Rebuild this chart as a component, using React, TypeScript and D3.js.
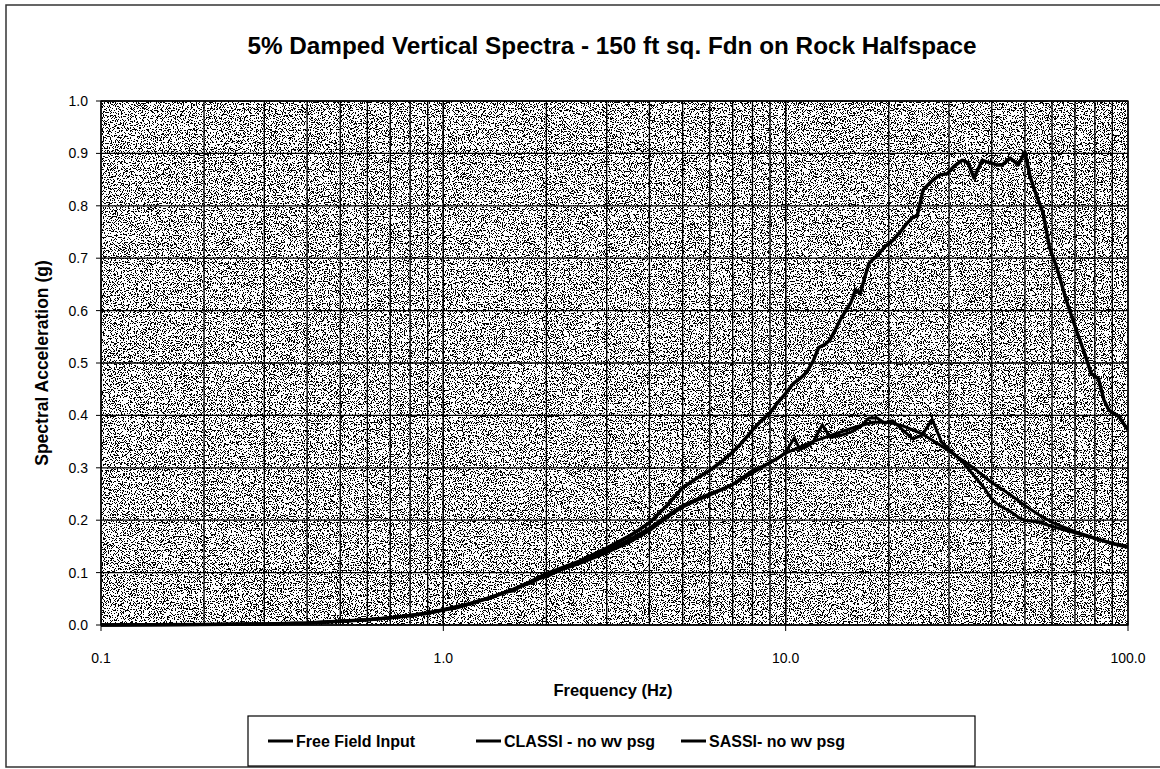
import React from "react";
import * as d3 from "d3";

const W = 1160;
const H = 769;

const titleText = "5% Damped Vertical Spectra - 150 ft sq. Fdn on Rock Halfspace";
const xTitle = "Frequency (Hz)";
const yTitle = "Spectral Acceleration (g)";
const xTickValues = [0.1, 1, 10, 100];
const xTickLabels = ["0.1", "1.0", "10.0", "100.0"];
const yTickValues = [0, 0.1, 0.2, 0.3, 0.4, 0.5, 0.6, 0.7, 0.8, 0.9, 1.0];
const seriesNames = ["Free Field Input", "CLASSI - no wv psg", "SASSI- no wv psg"];

const ffFreq = [0.1, 0.2, 0.3, 0.4, 0.5, 0.6, 0.7, 0.8, 0.9, 1.0, 1.2, 1.4, 1.6, 1.8, 2.0, 2.5, 3.0, 3.5, 4.0, 4.5, 5.0, 5.5, 6.0, 7.0, 8.0, 9.0, 10, 12, 14, 16, 18, 20, 22, 25, 28, 30, 35, 40, 45, 50, 55, 60, 70, 80, 90, 100];
const ffAcc = [0.0, 0.001, 0.002, 0.004, 0.007, 0.010, 0.014, 0.018, 0.023, 0.029, 0.040, 0.055, 0.068, 0.082, 0.097, 0.120, 0.143, 0.163, 0.185, 0.208, 0.228, 0.240, 0.250, 0.268, 0.290, 0.310, 0.328, 0.350, 0.365, 0.378, 0.387, 0.387, 0.380, 0.365, 0.345, 0.332, 0.302, 0.272, 0.250, 0.228, 0.210, 0.196, 0.178, 0.166, 0.156, 0.150];

const classiFreq = [0.1, 0.2, 0.3, 0.4, 0.5, 0.6, 0.7, 0.8, 0.9, 1.0, 1.1, 1.2, 1.3, 1.4, 1.5, 1.6, 1.7, 1.8, 1.9, 2.0, 2.2, 2.5, 2.8, 3.0, 3.5, 4.0, 4.5, 5.0, 5.5, 6.0, 6.5, 7.0, 7.5, 8.0, 8.5, 9.0, 9.5, 10.0, 10.6, 11.0, 11.5, 12.0, 12.8, 13.5, 14.5, 15.5, 16.5, 17.5, 18.5, 19.5, 20.5, 22, 23.5, 25, 26.8, 28.5, 30, 33, 36, 38, 40, 42, 45, 48, 50, 55, 60, 70, 80, 90, 100];
const classiAcc = [0.0, 0.001, 0.002, 0.004, 0.007, 0.010, 0.014, 0.018, 0.022, 0.028, 0.033, 0.041, 0.048, 0.053, 0.062, 0.065, 0.075, 0.080, 0.088, 0.092, 0.105, 0.117, 0.130, 0.138, 0.158, 0.180, 0.205, 0.225, 0.238, 0.248, 0.258, 0.268, 0.282, 0.295, 0.302, 0.310, 0.318, 0.330, 0.357, 0.335, 0.340, 0.348, 0.382, 0.358, 0.362, 0.368, 0.378, 0.395, 0.395, 0.385, 0.390, 0.372, 0.355, 0.362, 0.392, 0.350, 0.335, 0.310, 0.280, 0.262, 0.240, 0.228, 0.218, 0.205, 0.200, 0.196, 0.188, 0.176, 0.165, 0.155, 0.148];

const sassiFreq = [0.1, 0.2, 0.3, 0.4, 0.5, 0.6, 0.7, 0.8, 0.9, 1.0, 1.2, 1.4, 1.6, 1.8, 2.0, 2.5, 3.0, 3.5, 4.0, 4.5, 5.0, 5.5, 6.0, 6.5, 7.0, 7.5, 8.0, 8.5, 9.0, 9.5, 10.0, 10.5, 11.0, 11.5, 12.0, 12.5, 13.0, 13.5, 14.0, 14.5, 15.0, 15.5, 16.0, 16.5, 17.0, 17.5, 18.5, 19.5, 20.5, 21.6, 22.5, 23.6, 24.2, 25.2, 26.5, 28.2, 29.6, 31, 32.8, 34.1, 35.5, 37.5, 39, 41.5, 42.9, 45.3, 47.8, 50, 51.8, 54.2, 56.5, 59, 62.1, 66, 70, 75, 78, 82, 85, 88, 94, 100];
const sassiAcc = [0.0, 0.001, 0.002, 0.004, 0.007, 0.010, 0.014, 0.018, 0.023, 0.029, 0.041, 0.054, 0.068, 0.083, 0.098, 0.122, 0.147, 0.170, 0.195, 0.228, 0.262, 0.280, 0.295, 0.312, 0.330, 0.350, 0.372, 0.390, 0.405, 0.425, 0.442, 0.460, 0.470, 0.482, 0.502, 0.530, 0.535, 0.545, 0.565, 0.585, 0.600, 0.615, 0.640, 0.632, 0.662, 0.690, 0.705, 0.722, 0.733, 0.750, 0.765, 0.779, 0.780, 0.830, 0.845, 0.859, 0.861, 0.875, 0.887, 0.882, 0.853, 0.887, 0.883, 0.878, 0.878, 0.891, 0.878, 0.903, 0.855, 0.817, 0.786, 0.720, 0.680, 0.620, 0.570, 0.515, 0.480, 0.470, 0.430, 0.410, 0.398, 0.372];

const M = { left: 101, right: 1128, top: 101, bottom: 625 };

export default function App() {
  const x = d3.scaleLog().domain([0.1, 100]).range([M.left, M.right]);
  const y = d3.scaleLinear().domain([0, 1]).range([M.bottom, M.top]);

  const minorX: number[] = [];
  [0.1, 1, 10].forEach((d) => {
    for (let k = 1; k <= 10; k++) minorX.push(d * k);
  });

  const line = d3
    .line<[number, number]>()
    .x((d) => x(d[0]))
    .y((d) => y(d[1]));

  const series = [
    ffFreq.map((f, i) => [f, ffAcc[i]] as [number, number]),
    classiFreq.map((f, i) => [f, classiAcc[i]] as [number, number]),
    sassiFreq.map((f, i) => [f, sassiAcc[i]] as [number, number]),
  ];

  const font = "'Liberation Sans', Arial, sans-serif";
  const legendX = [268, 476, 681];
  const table = Array.from({ length: 32 }, (_, k) => (k >= 18 ? 1 : 0)).join(" ");

  return (
    <svg
      width={W}
      height={H}
      style={{ position: "absolute", left: 0, top: 0, background: "#fff" }}
      fontFamily={font}
    >
      <defs>
        <filter id="stipple" x="0" y="0" width="100%" height="100%" filterUnits="objectBoundingBox">
          <feTurbulence type="fractalNoise" baseFrequency="0.85" numOctaves="2" seed="7" result="n" />
          <feColorMatrix
            in="n"
            type="matrix"
            values="0 0 0 0 0  0 0 0 0 0  0 0 0 0 0  1 0 0 0 0"
            result="a"
          />
          <feComponentTransfer in="a">
            <feFuncA type="discrete" tableValues={table} />
          </feComponentTransfer>
        </filter>
        <clipPath id="plotClip">
          <rect x={M.left} y={M.top - 2} width={M.right - M.left} height={M.bottom - M.top + 4} />
        </clipPath>
      </defs>

      {/* outer frame */}
      <path d={`M${W + 2},5 H6 V767 H${W + 2}`} fill="none" stroke="#333" strokeWidth={1.5} />

      {/* title */}
      <text x={612} y={54} textAnchor="middle" fontSize={24.3} fontWeight="bold" fill="#000">
        {titleText}
      </text>

      {/* plot background */}
      <rect x={M.left} y={M.top} width={M.right - M.left} height={M.bottom - M.top} fill="#fff" />
      <rect
        x={M.left}
        y={M.top}
        width={M.right - M.left}
        height={M.bottom - M.top}
        fill="#000"
        filter="url(#stipple)"
      />

      {/* grid */}
      <g stroke="#000" strokeWidth={1.3}>
        {minorX.map((v, i) => (
          <line key={"gx" + i} x1={x(v)} x2={x(v)} y1={M.top} y2={M.bottom} />
        ))}
        {yTickValues.map((v, i) => (
          <line key={"gy" + i} x1={M.left} x2={M.right} y1={y(v)} y2={y(v)} />
        ))}
      </g>
      <rect
        x={M.left}
        y={M.top}
        width={M.right - M.left}
        height={M.bottom - M.top}
        fill="none"
        stroke="#000"
        strokeWidth={1.3}
      />

      {/* ticks */}
      <g stroke="#000" strokeWidth={1}>
        {yTickValues.map((v, i) => (
          <line key={"ty" + i} x1={M.left - 5} x2={M.left} y1={y(v)} y2={y(v)} />
        ))}
        {xTickValues.map((v, i) => (
          <line key={"tx" + i} x1={x(v)} x2={x(v)} y1={M.bottom} y2={M.bottom + 6} />
        ))}
      </g>
      <g fontSize={14} fill="#000">
        {yTickValues.map((v, i) => (
          <text key={"ly" + i} x={88} y={y(v) + 5} textAnchor="end">
            {v.toFixed(1)}
          </text>
        ))}
        {xTickValues.map((v, i) => (
          <text key={"lx" + i} x={x(v)} y={663} textAnchor="middle">
            {xTickLabels[i]}
          </text>
        ))}
      </g>

      {/* axis titles */}
      <text x={613} y={696} textAnchor="middle" fontSize={16.5} fontWeight="bold">
        {xTitle}
      </text>
      <text
        transform={`translate(48,363) rotate(-90)`}
        textAnchor="middle"
        fontSize={17.5}
        fontWeight="bold"
      >
        {yTitle}
      </text>

      {/* series */}
      <g clipPath="url(#plotClip)" fill="none" stroke="#000" strokeLinejoin="round">
        {series.map((s, i) => (
          <path key={"s" + i} d={line(s) || ""} strokeWidth={i === 2 ? 3.5 : 3} />
        ))}
      </g>

      {/* legend */}
      <rect x={248} y={716} width={727} height={50} fill="#fff" stroke="#000" strokeWidth={1.2} />
      {seriesNames.map((n, i) => (
        <g key={"lg" + i}>
          <line x1={legendX[i]} x2={legendX[i] + 25} y1={741} y2={741} stroke="#000" strokeWidth={3} />
          <text x={legendX[i] + 28} y={746.5} fontSize={16} fontWeight="bold">
            {n}
          </text>
        </g>
      ))}
    </svg>
  );
}
